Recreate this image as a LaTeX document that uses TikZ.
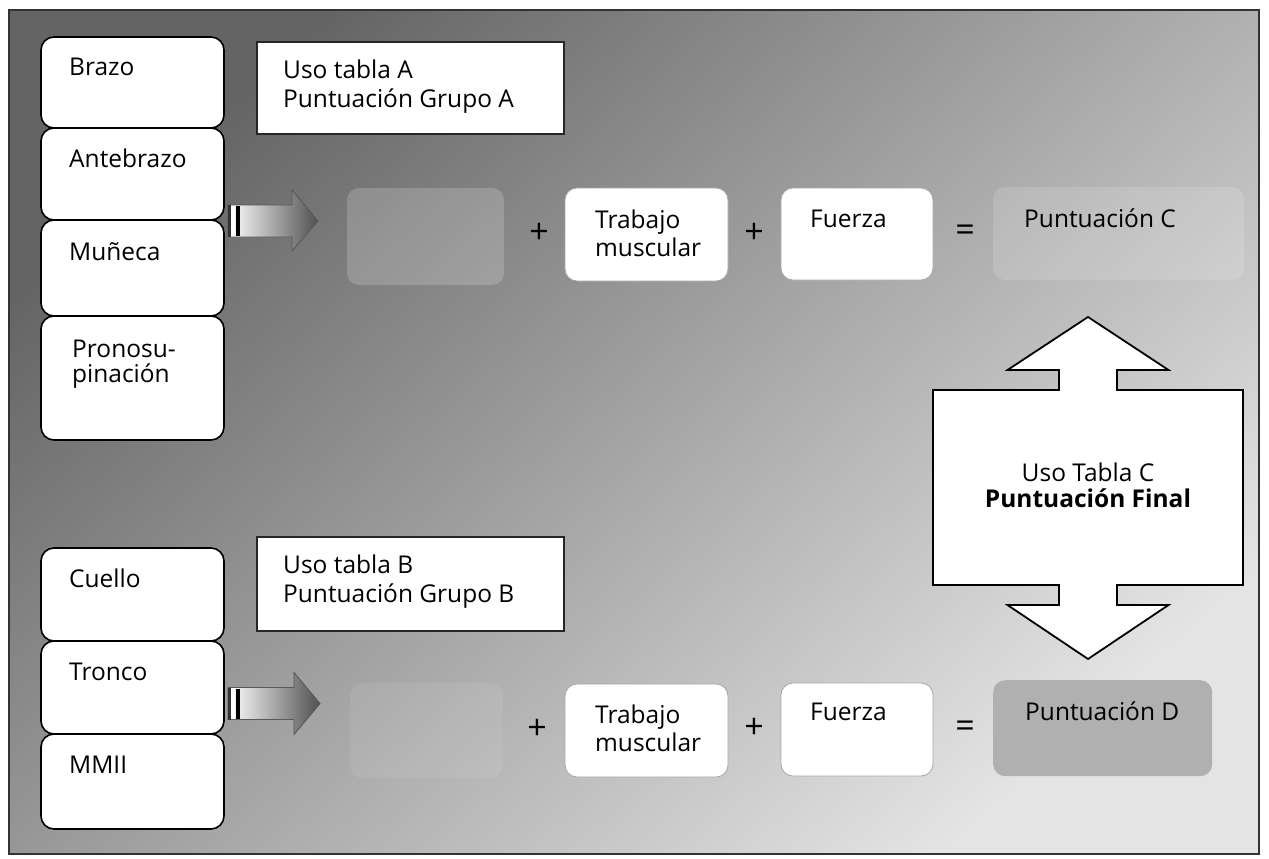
\documentclass[tikz,border=0pt]{standalone}
\usepackage{fontspec}
\setmainfont{Open Sans}
\usetikzlibrary{calc}
\definecolor{bgdark}{HTML}{646464}
\definecolor{bglight}{HTML}{E4E4E4}
\definecolor{arrowdark}{HTML}{505050}
\definecolor{scoreD}{HTML}{B0B0B0}
\begin{document}
\begin{tikzpicture}[x=1pt,y=-1pt,
  font=\fontsize{24.5}{30}\selectfont,
  part/.style={draw=black, line width=1.6pt, fill=white, rounded corners=13pt,
    minimum width=183pt, anchor=north west, inner sep=0pt, outer sep=0pt},
  lbl/.style={anchor=base west, inner sep=0pt},
  note/.style={draw=black!85, line width=1.4pt, fill=white, anchor=north west,
    minimum width=307pt, inner sep=0pt, outer sep=0pt},
  wbox/.style={draw=black!35, line width=0.8pt, fill=white, rounded corners=12pt,
    anchor=north west, inner sep=0pt, outer sep=0pt},
  ghost/.style={fill=white, fill opacity=#1, rounded corners=12pt,
    anchor=north west, inner sep=0pt, outer sep=0pt},
  op/.style={inner sep=0pt, font=\fontsize{34}{34}\selectfont},
  blockarrow/.style={draw=black!65, line width=0.9pt, left color=white, right color=arrowdark},
  bigarrow/.style={draw=black, line width=1.8pt, fill=white, line join=miter}
]
\useasboundingbox (0,0) rectangle (1269,859);
\fill[white] (0,0) rectangle (1269,859);
\shade[top color=bgdark, bottom color=bglight, shading angle=42] (9,10) rectangle (1259,854);
\draw[line width=1.6pt, black!80] (9,10) rectangle (1259,854);

% ---------- group A ----------
\node[part, minimum height=91pt] (brazo) at (41,37) {};
\node[part, minimum height=92pt] (antebrazo) at (41,128) {};
\node[part, minimum height=96pt] (muneca) at (41,220) {};
\node[part, minimum height=124pt] (prono) at (41,316) {};
\node[lbl] (tbrazo) at ($(brazo.north west)+(28,38)$) {Brazo};
\node[lbl] (tante) at ($(antebrazo.north west)+(28,39)$) {Antebrazo};
\node[lbl] (tmun) at ($(muneca.north west)+(28,40)$) {Muñeca};
\node[lbl] (tprono1) at ($(prono.north west)+(31,41)$) {Pronosu-};
\node[lbl] (tprono2) at ($(prono.north west)+(31,66)$) {pinación};

\node[note, minimum height=92pt] (notaA) at (257,42) {};
\node[lbl] (tnA1) at ($(notaA.north west)+(26,36)$) {Uso tabla A};
\node[lbl] (tnA2) at ($(notaA.north west)+(26,65)$) {Puntuación Grupo A};

% arrow A
\coordinate (aA) at ($(antebrazo.south east)+(4,1)$);
\path[blockarrow] ($(aA)+(0,-16)$) -- ++(64,0) -- ++(0,-15) -- ($(aA)+(90,0)$)
  -- ($(aA)+(64,30)$) -- ++(0,-14) -- ($(aA)+(0,16)$) -- cycle;
\fill[black!80] ($(aA)+(0,-16)$) rectangle ($(aA)+(3,16)$);
\fill[white] ($(aA)+(3,-15)$) rectangle ($(aA)+(7,15)$);
\fill[black] ($(aA)+(8,-15)$) rectangle ($(aA)+(12,15)$);

\node[ghost=0.18, minimum width=157pt, minimum height=97pt] (resA) at (347,188) {};
\node[op] (plusA1) at (539,233) {+};
\node[wbox, minimum width=163pt, minimum height=93pt] (trabA) at (565,188) {};
\node[lbl] (ttrabA1) at ($(trabA.north west)+(30,40)$) {Trabajo};
\node[lbl] (ttrabA2) at ($(trabA.north west)+(30,68)$) {muscular};
\node[op] (plusA2) at (754,233) {+};
\node[wbox, minimum width=152pt, minimum height=92pt] (fuerzaA) at (781,188) {};
\node[lbl] (tfuerzaA) at ($(fuerzaA.north west)+(29,39)$) {Fuerza};
\node[op] (eqA) at (965,233) {=};
\node[ghost=0.14, minimum width=251pt, minimum height=93pt] (ptsC) at (993,187) {};
\node[lbl] (tptsC) at ($(ptsC.north west)+(31,40)$) {Puntuación C};

% ---------- group B ----------
\node[part, minimum height=93pt] (cuello) at (41,548) {};
\node[part, minimum height=93pt] (tronco) at (41,641) {};
\node[part, minimum height=95pt] (mmii) at (41,734) {};
\node[lbl] (tcuello) at ($(cuello.north west)+(28,39)$) {Cuello};
\node[lbl] (ttronco) at ($(tronco.north west)+(28,39)$) {Tronco};
\node[lbl] (tmmii) at ($(mmii.north west)+(28,39)$) {MMII};

\node[note, minimum height=94pt] (notaB) at (257,537) {};
\node[lbl] (tnB1) at ($(notaB.north west)+(26,36)$) {Uso tabla B};
\node[lbl] (tnB2) at ($(notaB.north west)+(26,65)$) {Puntuación Grupo B};

% arrow B
\coordinate (aB) at ($(tronco.east)+(4,16)$);
\path[blockarrow] ($(aB)+(0,-16)$) -- ++(66,0) -- ++(0,-15) -- ($(aB)+(92,0)$)
  -- ($(aB)+(66,31)$) -- ++(0,-15) -- ($(aB)+(0,16)$) -- cycle;
\fill[black!80] ($(aB)+(0,-16)$) rectangle ($(aB)+(3,16)$);
\fill[white] ($(aB)+(3,-15)$) rectangle ($(aB)+(7,15)$);
\fill[black] ($(aB)+(8,-15)$) rectangle ($(aB)+(12,15)$);

\node[ghost=0.08, minimum width=153pt, minimum height=95pt] (resB) at (350,683) {};
\node[op] (plusB1) at (537,729) {+};
\node[wbox, minimum width=163pt, minimum height=93pt] (trabB) at (565,684) {};
\node[lbl] (ttrabB1) at ($(trabB.north west)+(30,39)$) {Trabajo};
\node[lbl] (ttrabB2) at ($(trabB.north west)+(30,67)$) {muscular};
\node[op] (plusB2) at (754,728) {+};
\node[wbox, minimum width=152pt, minimum height=93pt] (fuerzaB) at (781,683) {};
\node[lbl] (tfuerzaB) at ($(fuerzaB.north west)+(29,37)$) {Fuerza};
\node[op] (eqB) at (965,729) {=};
\node[fill=scoreD, rounded corners=12pt, anchor=north west, inner sep=0pt,
  minimum width=219pt, minimum height=96pt] (ptsD) at (993,680) {};
\node[lbl] (tptsD) at ($(ptsD.north west)+(32,40)$) {Puntuación D};

% ---------- double arrow ----------
\coordinate (c) at (1088,487.5);
\path[bigarrow] ($(c)+(0,-170.5)$) -- ($(c)+(80.5,-117.5)$) -- ($(c)+(29,-117.5)$)
  -- ($(c)+(29,-97.5)$) -- ($(c)+(155,-97.5)$) -- ($(c)+(155,97.5)$)
  -- ($(c)+(29,97.5)$) -- ($(c)+(29,117.5)$) -- ($(c)+(80.5,117.5)$)
  -- ($(c)+(0,171.5)$) -- ($(c)+(-80.5,117.5)$) -- ($(c)+(-29,117.5)$)
  -- ($(c)+(-29,97.5)$) -- ($(c)+(-155,97.5)$) -- ($(c)+(-155,-97.5)$)
  -- ($(c)+(-29,-97.5)$) -- ($(c)+(-29,-117.5)$) -- ($(c)+(-80.5,-117.5)$) -- cycle;
\node[anchor=base, inner sep=0pt] (tC1) at (1088,481) {Uso Tabla C};
\node[anchor=base, inner sep=0pt, font=\fontsize{24.5}{30}\selectfont\bfseries] (tC2) at (1088,507) {Puntuación Final};
\end{tikzpicture}
\end{document}
